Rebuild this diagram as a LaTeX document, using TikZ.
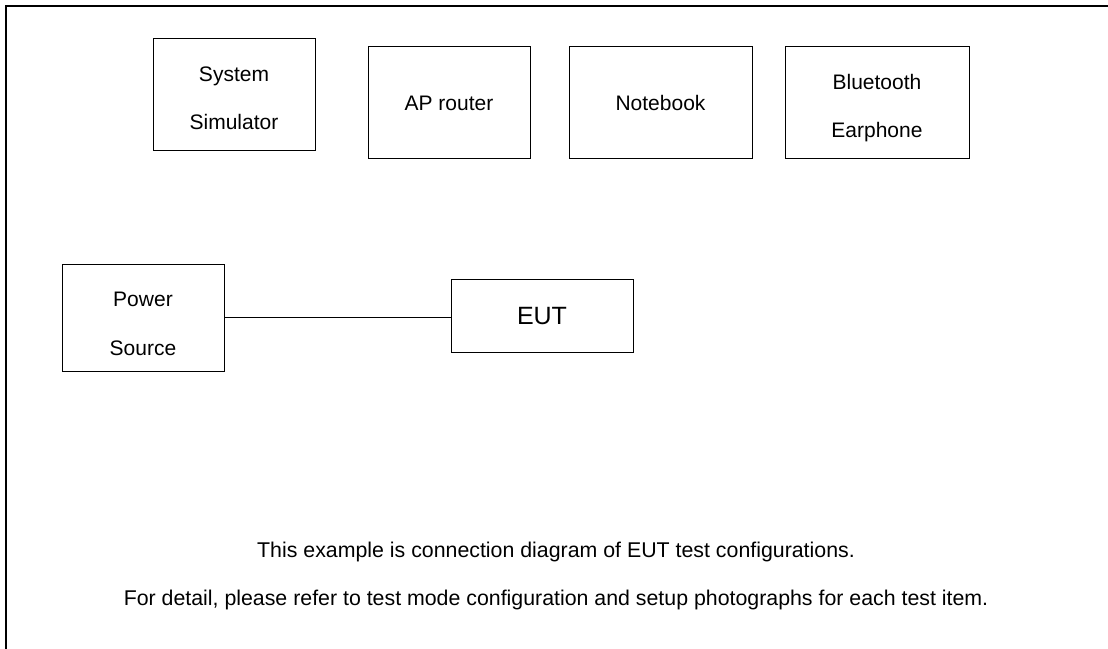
\documentclass[tikz,border=0pt]{standalone}
\usepackage{fontspec}
\setmainfont{Liberation Sans}

\begin{document}
\begin{tikzpicture}[x=0.75pt,y=0.75pt,yscale=-1,xscale=1,
  box/.style={draw, line width=0.75, inner sep=0pt, align=center, font=\fontsize{15.75}{36}\selectfont},
  twoline/.style={text height=52.5pt, text depth=0pt},
  note/.style={anchor=base, inner sep=0pt, font=\fontsize{16}{19}\selectfont}]
\useasboundingbox (0,0) rectangle (1108,649);

%Straight Lines (outer frame)
\draw [line width=1.5]    (6,649) -- (6,6) -- (1108,6) ;

%Shape: Rectangle
\node [box, twoline, minimum width=121.5pt, minimum height=84pt] (sim) at (234,95) {System\\Simulator};
%Shape: Rectangle
\node [box, minimum width=121.5pt, minimum height=84pt] (ap) at (449,103) {AP router};
%Shape: Rectangle
\node [box, minimum width=137.25pt, minimum height=84pt] (nb) at (660.5,103) {Notebook};
%Shape: Rectangle
\node [box, twoline, minimum width=138pt, minimum height=84pt] (bt) at (877,103) {Bluetooth\\Earphone};

%Shape: Rectangle
\node [box, text height=55.5pt, text depth=0pt, minimum width=121.5pt, minimum height=79.5pt] (pwr) at (143,318) {Power\\Source};
%Shape: Rectangle
\node [box, font=\fontsize{18.75}{22}\selectfont, minimum width=136.5pt, minimum height=54.75pt] (eut) at (542,316.5) {EUT};

%Straight Lines
\draw [line width=0.75]    (pwr.east) -- (pwr.east -| eut.west) ;

% Text Node
\node [note] (note1) at (556,557.5) {This example is connection diagram of EUT test configurations.};
% Text Node
\node [note] (note2) at (556,605) {For detail, please refer to test mode configuration and setup photographs for each test item.};

\end{tikzpicture}
\end{document}
